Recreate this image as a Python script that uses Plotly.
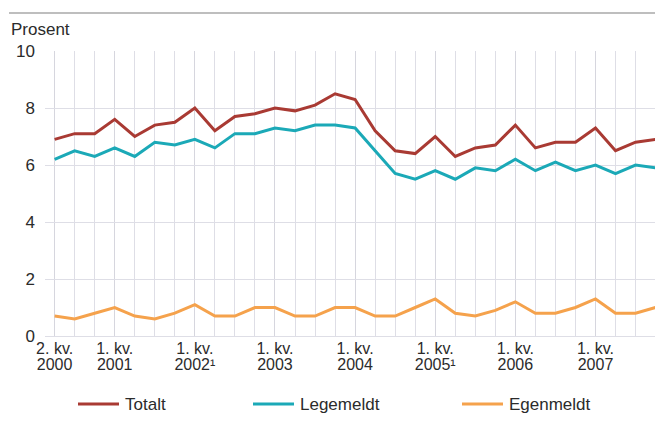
import plotly.graph_objects as go

quarters = list(range(31))
tick_idx = [0, 3, 7, 11, 15, 19, 23, 27]
tick_quarter = ["2. kv.", "1. kv.", "1. kv.", "1. kv.", "1. kv.", "1. kv.", "1. kv.", "1. kv."]
tick_year = ["2000", "2001", "2002¹", "2003", "2004", "2005¹", "2006", "2007"]

totalt = [6.9, 7.1, 7.1, 7.6, 7.0, 7.4, 7.5, 8.0, 7.2, 7.7, 7.8, 8.0, 7.9, 8.1, 8.5, 8.3,
          7.2, 6.5, 6.4, 7.0, 6.3, 6.6, 6.7, 7.4, 6.6, 6.8, 6.8, 7.3, 6.5, 6.8, 6.9]
legemeldt = [6.2, 6.5, 6.3, 6.6, 6.3, 6.8, 6.7, 6.9, 6.6, 7.1, 7.1, 7.3, 7.2, 7.4, 7.4, 7.3,
             6.5, 5.7, 5.5, 5.8, 5.5, 5.9, 5.8, 6.2, 5.8, 6.1, 5.8, 6.0, 5.7, 6.0, 5.9]
egenmeldt = [0.7, 0.6, 0.8, 1.0, 0.7, 0.6, 0.8, 1.1, 0.7, 0.7, 1.0, 1.0, 0.7, 0.7, 1.0, 1.0,
             0.7, 0.7, 1.0, 1.3, 0.8, 0.7, 0.9, 1.2, 0.8, 0.8, 1.0, 1.3, 0.8, 0.8, 1.0]

names = ["Totalt", "Legemeldt", "Egenmeldt"]
colors = ["#a93a33", "#1ba9b7", "#f5a24c"]
values = [totalt, legemeldt, egenmeldt]

# Figure sized to the visible area (the page body adds an 8px margin)
W, H = 655, 413
L, R, T, B = 37, 0, 43, 85
PW, PH = W - L - R, H - T - B

def px(x):
    return (x - L) / PW

def py(y):
    return 1 - (y - T) / PH

fig = go.Figure()
for name, vals, color in zip(names, values, colors):
    fig.add_trace(go.Scatter(x=quarters, y=vals, mode="lines", name=name, showlegend=False,
                             line=dict(color=color, width=3)))
# invisible helper trace so the second (year) axis is drawn
fig.add_trace(go.Scatter(x=quarters, y=totalt, xaxis="x2", mode="lines", opacity=0,
                         line=dict(width=0), hoverinfo="skip", showlegend=False))

font = dict(family="Liberation Sans, Arial, sans-serif", size=17, color="#2b2b2b")
xfont = dict(font, size=16)
grid = "#dedee6"

shapes = [dict(type="line", xref="paper", yref="paper", x0=px(1), x1=1.0,
               y0=py(5), y1=py(5), line=dict(color="#a8a8a8", width=1.5))]
annotations = [dict(text="Prosent", xref="paper", yref="paper", x=px(1), y=py(22),
                    xanchor="left", yanchor="middle", showarrow=False, font=font)]

# manual legend
leg_line_x = [70, 245, 454]
leg_y = 396
for name, color, lx in zip(names, colors, leg_line_x):
    shapes.append(dict(type="line", xref="paper", yref="paper", x0=px(lx), x1=px(lx + 41),
                       y0=py(leg_y), y1=py(leg_y), line=dict(color=color, width=3)))
    annotations.append(dict(text=name, xref="paper", yref="paper", x=px(lx + 45), y=py(leg_y),
                            xanchor="left", yanchor="middle", showarrow=False, font=font))

xrange = [-0.48, 30.37]
fig.update_layout(
    width=W, height=H,
    margin=dict(l=L, r=R, t=T, b=B, autoexpand=False),
    paper_bgcolor="white", plot_bgcolor="white",
    font=font, showlegend=False,
    xaxis=dict(range=xrange, tickmode="array", tickvals=tick_idx, ticktext=tick_quarter,
               showgrid=True, gridcolor="#d6d6de", gridwidth=1, zeroline=False,
               showline=True, linecolor=grid, linewidth=1, automargin=False,
               minor=dict(tickvals=quarters, showgrid=True, gridcolor=grid, gridwidth=1),
               ticks="", tickfont=xfont, ticklabelstandoff=-2, fixedrange=True),
    xaxis2=dict(range=xrange, overlaying="x", anchor="y", side="bottom", tickmode="array",
                tickvals=tick_idx, ticktext=tick_year, showgrid=False, zeroline=False,
                showline=False, ticks="", tickfont=xfont, ticklabelstandoff=17,
                automargin=False),
    yaxis=dict(range=[0, 10], tickvals=[0, 2, 4, 6, 8, 10], showgrid=True, gridcolor=grid,
               gridwidth=1, zeroline=False, showline=False, ticks="", tickfont=font,
               ticklabelstandoff=9, automargin=False),
    annotations=annotations,
    shapes=shapes,
)

fig.write_html("out.html")
